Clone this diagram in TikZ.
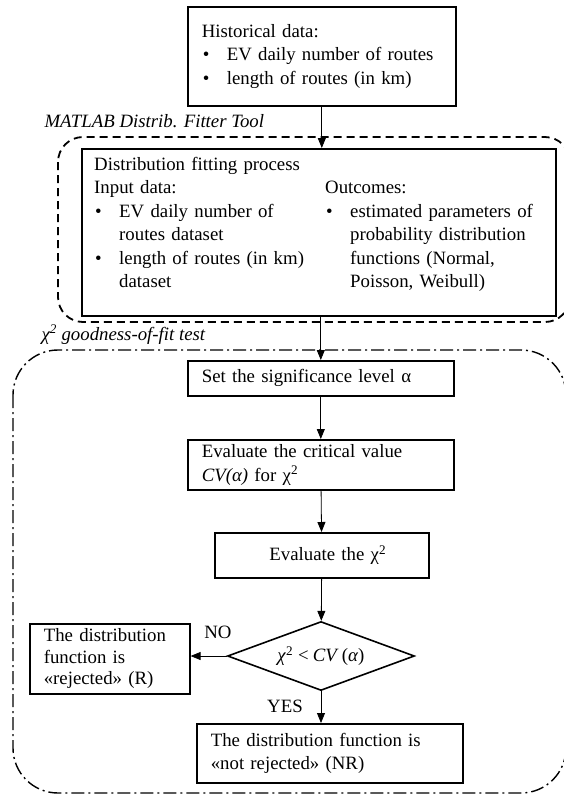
\documentclass[tikz,border=0pt]{standalone}
\usepackage{fontspec}
\setmainfont{Liberation Serif}
\usetikzlibrary{arrows.meta,shapes.geometric}
\tikzset{>={Triangle[length=10pt,width=8pt]}}
\newcommand{\bul}{\makebox[25pt][l]{\hspace{1pt}\textbullet}}
\newcommand{\cont}{\hspace*{25pt}}

\begin{document}
\begin{tikzpicture}[x=1pt,y=-1pt,font=\fontsize{18.8}{23.5}\selectfont]
\tikzstyle{procbox}=[draw, line width=1.6pt, anchor=north west, align=left, inner xsep=14pt, inner ysep=0pt]
\tikzstyle{decision}=[draw, diamond, line width=1.6pt, aspect=2.7, inner sep=0pt, minimum width=187pt, minimum height=69pt]
\tikzstyle{link}=[->, line width=0.8pt]
\tikzstyle{toolarea}=[line width=1.8pt, rounded corners=25pt, dash pattern=on 8pt off 5pt]
\tikzstyle{testarea}=[line width=1.4pt, rounded corners=45pt, dash pattern=on 13pt off 4pt on 2pt off 4pt]
\useasboundingbox (0,0) rectangle (564,796);

% grouping areas
\draw[toolarea] (58,137) rectangle (570,322);
\draw[testarea] (13,350) rectangle (566,793);
\node[anchor=base west] (tooltitle) at (41,127) {\itshape MATLAB Distrib. Fitter Tool};
\node[anchor=base west] (testtitle) at (38,340) {\itshape χ\textsuperscript{2} goodness-of-fit test};

% data and fitting
\node[procbox, text width=240pt, minimum height=99pt] (history) at (187,6)
  {Historical data:\\ \bul EV daily number of routes\\ \bul length of routes (in km)};
\node[draw, line width=2.2pt, anchor=north west, minimum width=474pt, minimum height=167pt] (fitting) at (81,148) {};
\node[anchor=north west, align=left, inner sep=0pt, text width=440pt] (fittext) at (94,157)
  {Distribution fitting process\\
   \begin{tabular}[t]{@{}p{231pt}@{}l@{}}
   Input data: & Outcomes:\\
   \bul EV daily number of & \bul estimated parameters of\\
   \cont routes dataset & \cont probability distribution\\
   \bul length of routes (in km) & \cont functions (Normal,\\
   \cont dataset & \cont Poisson, Weibull)
   \end{tabular}};

% chi square test
\node[procbox, text width=238pt, minimum height=35pt] (signif) at (187,360) {Set the significance level α};
\node[procbox, text width=238pt, minimum height=50pt] (critical) at (187,439)
  {Evaluate the critical value\\ \textit{CV(α)} for χ\textsuperscript{2}};
\node[procbox, align=center, text width=186pt, minimum height=45pt] (evalchi) at (214,532) {\hspace{12pt}Evaluate the χ\textsuperscript{2}};
\node[decision] (check) at (321,656) {\textit{χ}\textsuperscript{2}\hspace{5pt}<\hspace{4pt}\textit{CV}\,(\textit{α})};
\node[procbox, text width=132pt, minimum height=70pt, font=\fontsize{18.8}{21.5}\selectfont] (rejected) at (29,623)
  {The distribution\\ function is\\ «rejected» (R)};
\node[procbox, text width=238pt, minimum height=59pt] (accepted) at (196,723)
  {The distribution function is\\ «not rejected» (NR)};
\node[anchor=base] (nolabel) at (218,638) {NO};
\node[anchor=base] (yeslabel) at (285,712) {YES};

\draw[link] (history.south) -- (history.south |- fitting.north);
\draw[link] (signif.north |- fitting.south) -- (signif.north);
\draw[link] (signif) -- (critical);
\draw[link] (critical) -- (evalchi);
\draw[link] (evalchi) -- (check);
\draw[link] (check.west) -- (check.west -| rejected.east);
\draw[link] (check.south) -- (check.south |- accepted.north);
\end{tikzpicture}
\end{document}
